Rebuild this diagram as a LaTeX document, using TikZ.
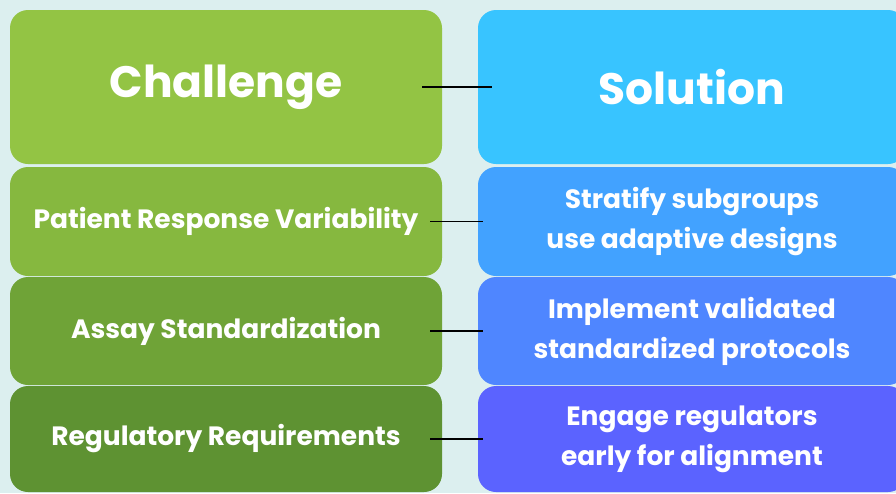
\documentclass[tikz,border=0pt]{standalone}
\usepackage{fontspec}
\setmainfont{Poppins}
\usetikzlibrary{positioning}

\definecolor{bgcol}{HTML}{DCEFEF}
\definecolor{chalhead}{HTML}{93C444}
\definecolor{chalone}{HTML}{86B83F}
\definecolor{chaltwo}{HTML}{6FA337}
\definecolor{chalthree}{HTML}{5E9232}
\definecolor{solhead}{HTML}{38C4FF}
\definecolor{solone}{HTML}{42A2FF}
\definecolor{soltwo}{HTML}{4F86FF}
\definecolor{solthree}{HTML}{5B63FF}

\tikzset{
  cell/.style={rectangle, rounded corners=18pt, inner sep=0pt, text=white,
    align=center, font=\fontsize{26.5}{40}\selectfont\bfseries},
  leftcell/.style={cell, minimum width=432pt},
  rightcell/.style={cell, minimum width=428pt},
  headcell/.style={minimum height=154pt, font=\fontsize{44}{50}\selectfont\bfseries},
  link/.style={draw=black, line width=1.4pt}
}

\begin{document}
\begin{tikzpicture}[x=1pt,y=-1pt]
\useasboundingbox (0,0) rectangle (896,493);
\clip (0,0) rectangle (896,493);
\fill[bgcol] (0,0) rectangle (896,493);

% headers
\node[leftcell, headcell, fill=chalhead] (chal) at (226,87) {Challenge};
\node[rightcell, headcell, fill=solhead] (sol) at (692,87) {Solution};

% rows
\node[leftcell, minimum height=109pt, fill=chalone] (c1) at (226,221.5) {Patient Response Variability};
\node[rightcell, minimum height=109pt, fill=solone] (s1) at (692,221.5) {Stratify subgroups\\use adaptive designs};

\node[leftcell, minimum height=108pt, fill=chaltwo] (c2) at (226,331) {Assay Standardization};
\node[rightcell, minimum height=108pt, fill=soltwo] (s2) at (692,331) {Implement validated\\standardized protocols};

\node[leftcell, minimum height=106pt, fill=chalthree] (c3) at (226,439) {Regulatory Requirements};
\node[rightcell, minimum height=106pt, fill=solthree] (s3) at (692,439) {Engage regulators\\early for alignment};

% connectors
\draw[link] ([xshift=-20pt]chal.east) -- ([xshift=14pt]sol.west);
\draw[link] ([xshift=-12pt]c1.east) -- ([xshift=5pt]s1.west);
\draw[link] ([xshift=-12pt]c2.east) -- ([xshift=5pt]s2.west);
\draw[link] ([xshift=-12pt]c3.east) -- ([xshift=5pt]s3.west);
\end{tikzpicture}
\end{document}
